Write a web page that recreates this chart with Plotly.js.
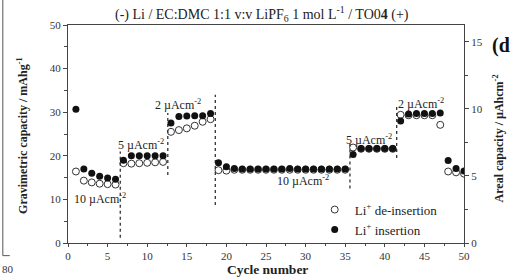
<!DOCTYPE html>
<html>
<head>
<meta charset="utf-8">
<script src="https://cdn.plot.ly/plotly-3.0.1.min.js"></script>
<style>html,body{margin:0;padding:0;background:#fff;}#chart{width:512px;height:277px;}</style>
</head>
<body>
<div id="chart"></div>
<script>
const cycles = [1,2,3,4,5,6,7,8,9,10,11,12,13,14,15,16,17,18,19,20,21,22,23,24,25,26,27,28,29,30,31,32,33,34,35,36,37,38,39,40,41,42,43,44,45,46,47,48,49,50];
const deinsertion = [16.4,14.3,13.9,13.6,13.5,13.4,18.3,18.2,18.3,18.4,18.5,18.6,25.5,25.9,26.3,26.9,27.8,28.4,16.7,16.6,16.8,16.8,16.8,16.8,16.8,16.8,16.8,16.8,16.8,16.8,16.8,16.8,16.8,16.8,16.8,21.9,21.6,21.6,21.6,21.6,21.6,29.4,29.3,29.3,29.3,29.3,27.1,16.4,16.2,15.9];
const insertion = [30.7,17.0,16.0,15.3,14.9,14.6,19.0,20.0,20.0,20.0,20.0,20.0,27.5,29.0,29.1,29.2,29.2,29.7,18.4,17.5,17.1,17.0,17.0,17.0,17.0,17.0,17.0,17.1,17.0,17.0,17.0,17.0,17.0,17.0,17.0,20.3,21.7,21.7,21.7,21.7,21.7,28.0,29.6,29.7,29.7,29.7,29.8,18.9,17.1,16.5];
const dividerX = [6.6, 12.6, 18.6, 35.6, 41.5];
const dividerLow = [1.2, 15.6, 8.7, 12.5, 19.5];
const dividerHigh = [21.0, 29.8, 34.0, 23.5, 31.3];
const rateLabels = ['10 µAcm<sup>-2</sup>','5 µAcm<sup>-2</sup>','2 µAcm<sup>-2</sup>','10 µAcm<sup>-2</sup>','5 µAcm<sup>-2</sup>','2 µAcm<sup>-2</sup>'];
const rateX = [4.0, 9.2, 13.9, 29.7, 38.0, 44.6];
const rateY = [10.1, 22.5, 31.7, 14.3, 23.8, 32.0];
const arealRange = [0, 16.25];

const serif = 'Liberation Serif, Times New Roman, serif';
const divX = [], divY = [];
dividerX.forEach((x, i) => { divX.push(x, x, null); divY.push(dividerLow[i], dividerHigh[i], null); });

const traces = [
  {x: divX, y: divY, mode: 'lines', line: {color: '#333', width: 1.3, dash: 'dot'}, showlegend: false, hoverinfo: 'skip'},
  {x: cycles, y: deinsertion, mode: 'markers', name: 'Li<sup>+</sup> de-insertion',
   marker: {symbol: 'circle-open', size: 7, color: '#333', line: {width: 1, color: '#333'}}},
  {x: cycles, y: insertion, mode: 'markers', name: 'Li<sup>+</sup> insertion',
   marker: {symbol: 'circle', size: 7, color: '#111'}},
  {x: [], y: [], yaxis: 'y2', showlegend: false}
];

const annotations = rateLabels.map((t, i) => ({
  x: rateX[i], y: rateY[i], xref: 'x', yref: 'y', text: t, showarrow: false,
  xanchor: 'center', yanchor: 'middle',
  font: {family: serif, size: 12, color: '#222'}
}));
const paperText = (x, y, text, size, extra) => Object.assign({xref: 'paper', yref: 'paper', x: x, y: y, text: text,
  showarrow: false, xanchor: 'center', yanchor: 'middle', font: {family: serif, size: size, color: '#222'}}, extra || {});
annotations.push(
  paperText(-0.1165, 0.495, '<b>Gravimetric capacity / mAhg<sup>-1</sup></b>', 12, {textangle: -90}),
  paperText(1.086, 0.48, '<b>Areal capacity / µAhcm<sup>-2</sup></b>', 12, {textangle: -90}),
  paperText(0.504, -0.12, '<b>Cycle number</b>', 13.5),
  paperText(0.491, 1.05, '(-) Li / EC:DMC 1:1 v:v LiPF<sub>6</sub> 1 mol L<sup>-1</sup> / TO0<b>4</b> (+)', 14),
  paperText(1.12, 0.905, '<b>(d</b>', 20, {xanchor: 'right', font: {family: serif, size: 20, color: '#111'}}),
  paperText(-0.172, -0.12, '80', 11, {xanchor: 'left', font: {family: serif, size: 11, color: '#333'}})
);

const axisCommon = {showgrid: false, zeroline: false, showline: true, linecolor: '#444', linewidth: 1,
  ticks: 'outside', ticklen: 4, tickcolor: '#444', tickfont: {family: serif, size: 11, color: '#333'}};

const layout = {
  width: 512, height: 277,
  margin: {l: 68, r: 48, t: 25, b: 34, pad: 0},
  paper_bgcolor: '#fff', plot_bgcolor: '#fff',
  showlegend: true,
  legend: {x: 0.623, y: 0.222, xanchor: 'left', yanchor: 'top', bgcolor: 'rgba(0,0,0,0)',
    font: {family: serif, size: 13, color: '#222'}, tracegroupgap: 0, itemwidth: 30},
  xaxis: Object.assign({}, axisCommon, {range: [0, 50], tick0: 0, dtick: 5, mirror: true, ticklen: 3,
    minor: {dtick: 2.5, ticklen: 2, ticks: 'outside', tickcolor: '#444'}}),
  yaxis: Object.assign({}, axisCommon, {range: [0, 50], tick0: 0, dtick: 10,
    minor: {dtick: 5, ticklen: 3, ticks: 'outside', tickcolor: '#444'}}),
  yaxis2: Object.assign({}, axisCommon, {overlaying: 'y', side: 'right', range: arealRange, tick0: 0, dtick: 5,
    minor: {dtick: 2.5, ticklen: 3, ticks: 'outside', tickcolor: '#444'}}),
  annotations: annotations,
  shapes: [
    {type: 'line', xref: 'paper', yref: 'paper', x0: -0.1646, x1: -0.1646, y0: 1.12, y1: -0.058, line: {color: '#555', width: 1}},
    {type: 'line', xref: 'paper', yref: 'paper', x0: -0.1646, x1: -0.147, y0: -0.058, y1: -0.058, line: {color: '#555', width: 1}}
  ]
};

Plotly.newPlot('chart', traces, layout, {staticPlot: true, displayModeBar: false});
</script>
</body>
</html>
